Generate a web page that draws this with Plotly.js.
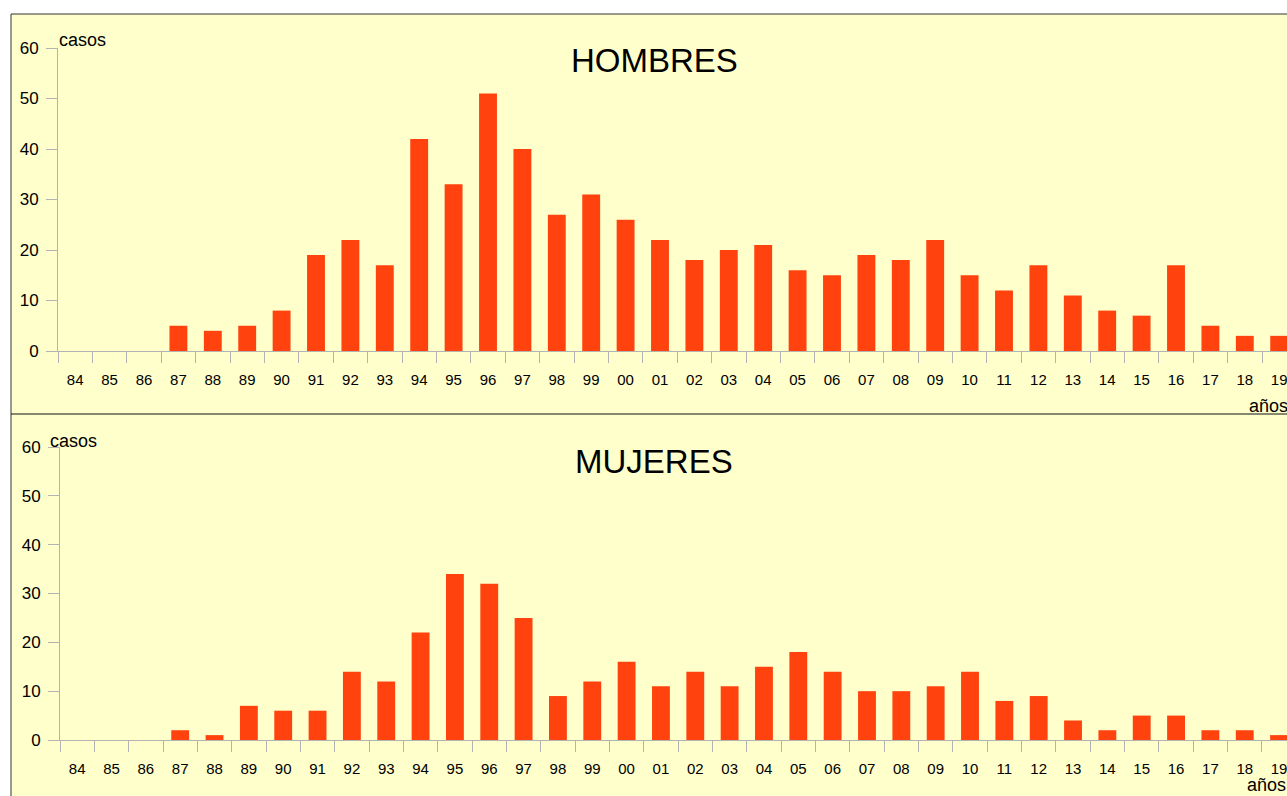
<!DOCTYPE html>
<html>
<head>
<meta charset="utf-8">
<script src="https://cdn.plot.ly/plotly-3.0.1.min.js"></script>
<style>
  html, body { margin: 0; padding: 0; background: #ffffff; }
  #chart { width: 1287px; height: 796px; }
</style>
</head>
<body>
<div id="chart"></div>
<script>
// Years (two-digit labels) from 1984 to 2019
const years = ['84','85','86','87','88','89','90','91','92','93','94','95','96','97','98','99',
               '00','01','02','03','04','05','06','07','08','09','10','11','12','13','14','15',
               '16','17','18','19'];

// Cases per year
const hombres = [0,0,0,5,4,5,8,19,22,17,42,33,51,40,27,31,
                 26,22,18,20,21,16,15,19,18,22,15,12,17,11,8,7,
                 17,5,3,3];
const mujeres = [0,0,0,2,1,7,6,6,14,12,22,34,32,25,9,12,
                 16,11,14,11,15,18,14,10,10,11,14,8,9,4,2,5,
                 5,2,2,1];

const yTicks = [0,10,20,30,40,50,60];

const W = 1287, H = 796;
const px = x => x / W;           // pixel -> paper x
const py = y => 1 - y / H;       // pixel -> paper y

const BAR = '#ff420e';
const BG = '#ffffcc';
const AXIS = '#b3b3b3';
const FONT = 'Liberation Sans, Arial, sans-serif';

const traces = [
  { type: 'bar', x: years, y: hombres, xaxis: 'x', yaxis: 'y',
    marker: { color: BAR }, hoverinfo: 'skip' },
  { type: 'bar', x: years, y: mujeres, xaxis: 'x2', yaxis: 'y2',
    marker: { color: BAR }, hoverinfo: 'skip' }
];

function xAxis(left, catW, anchor) {
  return {
    type: 'category',
    anchor: anchor,
    domain: [px(left), 1],
    range: [-0.5, -0.5 + (W - left) / catW],
    showline: true, linecolor: AXIS, linewidth: 1,
    ticks: 'outside', tickson: 'boundaries', ticklen: 11, tickcolor: AXIS, tickwidth: 1,
    ticklabelstandoff: 15,
    showgrid: false, zeroline: false,
    tickfont: { family: FONT, size: 15, color: '#000' },
    fixedrange: true
  };
}
function yAxis(top, bottom, anchor) {
  return {
    anchor: anchor,
    domain: [py(bottom), py(top)],
    range: [0, 60],
    tickvals: yTicks,
    showline: true, linecolor: AXIS, linewidth: 1,
    ticks: 'outside', ticklen: 11, tickcolor: AXIS, tickwidth: 1,
    ticklabelstandoff: 4,
    showgrid: false, zeroline: false,
    tickfont: { family: FONT, size: 17, color: '#000' },
    fixedrange: true
  };
}

function label(text, x, y, size, xanchor) {
  return { text: text, xref: 'paper', yref: 'paper', x: px(x), y: py(y),
           xanchor: xanchor, yanchor: 'middle', showarrow: false,
           font: { family: FONT, size: size, color: '#000' } };
}

const layout = {
  width: W, height: H,
  margin: { l: 0, r: 0, t: 0, b: 0, pad: 0 },
  paper_bgcolor: '#ffffff',
  plot_bgcolor: 'rgba(0,0,0,0)',
  showlegend: false,
  bargap: 0.48,
  font: { family: FONT, color: '#000' },
  xaxis: xAxis(58, 34.4, 'y'),
  yaxis: yAxis(48, 351, 'x'),
  xaxis2: xAxis(60, 34.34, 'y2'),
  yaxis2: yAxis(447, 740, 'x2'),
  shapes: [
    // panel background
    { type: 'rect', xref: 'paper', yref: 'paper', x0: px(11), x1: 1.01, y0: -0.01, y1: py(14),
      fillcolor: BG, line: { width: 0 }, layer: 'below' },
    // frame lines
    { type: 'line', xref: 'paper', yref: 'paper', x0: px(11), x1: 1.01, y0: py(14), y1: py(14),
      line: { color: '#333333', width: 1 } },
    { type: 'line', xref: 'paper', yref: 'paper', x0: px(11), x1: px(11), y0: -0.01, y1: py(14),
      line: { color: '#333333', width: 1 } },
    { type: 'line', xref: 'paper', yref: 'paper', x0: px(11), x1: 1.01, y0: py(414), y1: py(414),
      line: { color: '#111111', width: 1 } }
  ],
  annotations: [
    label('HOMBRES', 654.5, 61, 33, 'center'),
    label('MUJERES', 654, 461, 33, 'center'),
    label('casos', 57, 40, 18, 'left'),
    label('casos', 48, 441, 18, 'left'),
    label('años', 1247, 406, 18, 'left'),
    label('años', 1245, 785, 18, 'left')
  ]
};

Plotly.newPlot('chart', traces, layout, { staticPlot: true, displayModeBar: false });
</script>
</body>
</html>
